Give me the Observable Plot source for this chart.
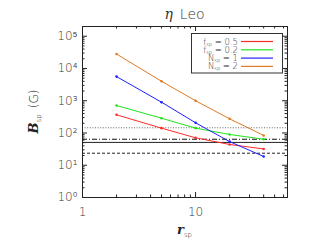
<!DOCTYPE html>
<html><head><meta charset="utf-8">
<script src="https://cdn.jsdelivr.net/npm/d3@7"></script>
<script src="https://cdn.jsdelivr.net/npm/@observablehq/plot@0.6"></script>
<style>body{margin:0;background:#fff;} svg{display:block;}</style>
</head><body><div id="chart"></div>
<script>
// ---- data ----
const rsp = [2, 5, 10, 20, 40];
const fsp05 = [366, 141, 71, 44, 32];
const fsp02 = [710, 287, 141, 90, 64];
const nsp1 = [5600, 900, 207, 54, 18.7];
const nsp2 = [28000, 4000, 1000, 275, 84];
const seriesKeys = ["fsp05", "fsp02", "nsp1", "nsp2"];
const legendNames = ["f", "f", "N", "N"];
const legendValues = ["0.5", "0.2", "1", "2"];
const refLevels = [145, 64, 51, 23.6];
const xTickLabels = [1, 10];
const yTickLabels = [1, 10, 100, 1000, 10000, 100000];

// ---- styling ----
const colors = ["#ff2b2b", "#1fe31f", "#2020ff", "#e07a22"];
const refStyles = [
  {strokeDasharray: "1,1.6", stroke: "#666"},
  {strokeDasharray: "5,2,1,2", stroke: "#111"},
  {stroke: "#222"},
  {strokeDasharray: "3,2", stroke: "#222"}
];
const seriesVals = [fsp05, fsp02, nsp1, nsp2];
const rows = seriesKeys.flatMap((k, i) => rsp.map((r, j) => ({series: k, r, B: seriesVals[i][j]})));

const W = 312, H = 249, mL = 82, mR = 25, mT = 26, mB = 52;
const fw = W - mL - mR, fh = H - mT - mB;
const xMinor = [2,3,4,5,6,7,8,9,20,30,40,50,60];
const yMajor = yTickLabels;
const yMinor = [];
for (let e = 0; e <= 5; e++) for (let m = 2; m <= 9; m++) { const v = m * 10 ** e; if (v <= 2e5) yMinor.push(v); }
const sup = {"0":"⁰","1":"¹","2":"²","3":"³","4":"⁴","5":"⁵"};
const font = "'DejaVu Sans', sans-serif";

const plot = Plot.plot({
  width: W, height: H,
  marginLeft: mL, marginRight: mR, marginTop: mT, marginBottom: mB,
  style: {fontFamily: font, background: "#fff", color: "#333"},
  x: {type: "log", domain: [1, 65]},
  y: {type: "log", domain: [1, 2e5]},
  color: {domain: seriesKeys, range: colors},
  marks: [
    ...refLevels.map((v, i) => Plot.ruleY([v], {strokeWidth: 1, ...refStyles[i]})),
    Plot.line(rows, {x: "r", y: "B", z: "series", stroke: "series", strokeWidth: 1}),
    Plot.dot(rows, {x: "r", y: "B", fill: "series", r: 1.3}),
    // inward ticks on all four sides
    Plot.tickX(xTickLabels, {x: d => d, insetTop: fh - 5, stroke: "#222"}),
    Plot.tickX(xTickLabels, {x: d => d, insetBottom: fh - 5, stroke: "#222"}),
    Plot.tickX(xMinor, {x: d => d, insetTop: fh - 2.5, stroke: "#222"}),
    Plot.tickX(xMinor, {x: d => d, insetBottom: fh - 2.5, stroke: "#222"}),
    Plot.tickY(yMajor, {y: d => d, insetRight: fw - 5, stroke: "#222"}),
    Plot.tickY(yMajor, {y: d => d, insetLeft: fw - 5, stroke: "#222"}),
    Plot.tickY(yMinor, {y: d => d, insetRight: fw - 2.5, stroke: "#222"}),
    Plot.tickY(yMinor, {y: d => d, insetLeft: fw - 2.5, stroke: "#222"}),
    Plot.axisX({ticks: xTickLabels, tickSize: 0, tickPadding: 10, fontSize: 12, tickFormat: d => String(d), label: null}),
    Plot.axisY({ticks: yTickLabels, tickSize: 0, tickPadding: 5, fontSize: 12,
      tickFormat: d => "10" + sup[String(Math.round(Math.log10(d)))], label: null}),
    Plot.frame({stroke: "#222", strokeWidth: 1})
  ]
});
plot.setAttribute("font-weight", "300");

const svg = d3.select(plot);
// title
const t = svg.append("text").attr("x", mL + fw / 2).attr("y", 19).attr("text-anchor", "middle")
  .attr("font-size", 14).attr("fill", "#333");
t.append("tspan").attr("font-family", "'DejaVu Serif', serif").attr("font-style", "italic").text("η");
t.append("tspan").attr("font-family", font).text("\u2002Leo");
// x label
const xl = svg.append("text").attr("x", mL + fw / 2).attr("y", 234).attr("text-anchor", "middle").attr("fill", "#222");
xl.append("tspan").attr("font-family", "'DejaVu Serif', serif").attr("font-style", "italic").attr("font-weight", "bold").attr("font-size", 13).text("r");
xl.append("tspan").attr("font-family", font).attr("font-size", 7).attr("dy", 3).text("sp");
// y label
const yl = svg.append("text").attr("transform", `translate(38,${mT + fh / 2}) rotate(-90)`).attr("text-anchor", "middle").attr("fill", "#222");
yl.append("tspan").attr("font-family", "'DejaVu Serif', serif").attr("font-style", "italic").attr("font-weight", "bold").attr("font-size", 13).text("B");
yl.append("tspan").attr("font-family", font).attr("font-size", 7).attr("dy", 3).text("sp");
yl.append("tspan").attr("font-family", font).attr("font-size", 12).attr("dy", -3).text("\u2002(G)");
// legend
const lg = svg.append("g");
lg.append("rect").attr("x", 191.5).attr("y", 33.5).attr("width", 91).attr("height", 39.5)
  .attr("fill", "#fff").attr("stroke", "#333");
seriesKeys.forEach((k, i) => {
  const cy = 41.5 + i * 8.3;
  const tx = lg.append("text").attr("x", 238).attr("y", cy + 3).attr("text-anchor", "end")
    .attr("font-family", font).attr("font-size", 8.5).attr("fill", "#333");
  tx.append("tspan").text(legendNames[i]);
  tx.append("tspan").attr("font-size", 5).attr("dy", 1).text("sp");
  tx.append("tspan").attr("dy", -1).text(" = " + legendValues[i]);
  lg.append("line").attr("x1", 241).attr("x2", 273).attr("y1", cy).attr("y2", cy)
    .attr("stroke", colors[i]).attr("stroke-width", 1.2);
});
document.getElementById("chart").appendChild(plot);
</script>
</body></html>
